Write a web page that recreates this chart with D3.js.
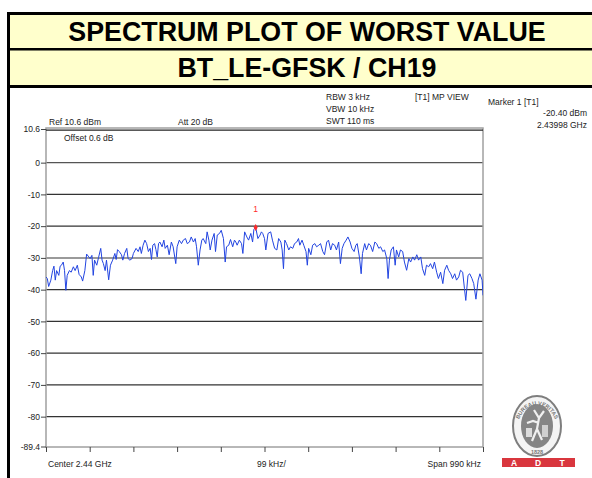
<!DOCTYPE html>
<html>
<head>
<meta charset="utf-8">
<script src="https://cdn.jsdelivr.net/npm/d3@7"></script>
<style>
  html, body { margin: 0; padding: 0; background: #fff; }
  svg { display: block; }
  text { font-family: "Liberation Sans", Arial, sans-serif; }
</style>
</head>
<body>
<div id="chart"></div>
<script>
// Spectrum analyzer sweep: frequency offset from 2.44 GHz centre (kHz) and level (dBm)
const traceOffsetKHz = [
  -495,-492,-489,-484,-480,-477,-474,-471,-466,-463,-460,-456,-453,-450,-447,-442,-438,-433,-429,-424,
  -420,-415,-412,-407,-403,-398,-395,-391,-388,-385,-380,-376,-371,-368,-365,-361,-358,-353,-349,-344,
  -339,-336,-333,-329,-324,-321,-317,-312,-309,-305,-300,-297,-291,-286,-282,-279,-275,-271,-267,-263,
  -259,-256,-253,-249,-246,-243,-240,-237,-232,-228,-225,-220,-216,-211,-207,-201,-198,-193,-188,-184,
  -179,-175,-170,-166,-161,-157,-154,-150,-146,-142,-139,-133,-130,-126,-123,-119,-114,-111,-107,-102,
  -98,-93,-89,-86,-81,-77,-72,-68,-65,-62,-57,-52,-49,-45,-40,-36,-31,-27,-24,-20,
  -15,-10,-7,-4,0,3,8,14,18,23,28,32,37,40,43,46,50,55,59,64,
  68,73,77,80,85,89,94,97,100,105,109,114,118,123,127,132,136,141,145,150,
  154,159,163,168,172,176,180,185,189,194,198,203,207,210,215,219,222,227,231,236,
  240,245,250,254,259,263,268,272,277,280,283,287,292,296,299,304,308,313,317,322,
  327,331,336,340,345,349,354,358,363,367,372,376,381,385,390,394,399,404,408,413,
  417,422,426,431,435,440,444,449,453,456,461,465,470,474,479,484,488,493,495
];
const traceLevelDbm = [
  -36,-36.5,-39,-37,-34,-32.6,-37,-34,-35.5,-32.6,-32.3,-31.3,-34,-40.2,-35.5,-34,-34.5,-32.8,-34,-32.3,
  -35.2,-36,-37.3,-34,-28.8,-29.7,-30.2,-29.2,-35.5,-30.7,-32.3,-29.9,-27,-30.7,-31.8,-34,-30.7,-36.9,-32.3,-30.7,
  -28.6,-30.5,-27.4,-28,-29,-30.7,-28.6,-27,-30.2,-30.7,-30.2,-28.6,-27,-28,-26.5,-28.6,-26,-24.4,-25.5,-28,
  -27,-30.5,-26,-25.5,-27.4,-29.7,-25.5,-25,-26.5,-24.4,-27,-26,-29,-25,-26.5,-31.8,-26.5,-24.4,-25.5,-24.4,
  -23.9,-25.5,-25,-23.4,-25,-23.9,-26.5,-32.3,-27.5,-24.4,-23.9,-25.5,-21.8,-24.4,-27.5,-24.4,-22.3,-28,-22.8,-22.3,
  -21.3,-23.9,-31.3,-26.5,-26,-24.2,-26.5,-24.4,-25,-26,-24.4,-25.5,-28.6,-21.8,-23.4,-24.4,-22.3,-25,-21,-20.4,
  -23.9,-22.8,-21.8,-22.3,-23.9,-27.5,-22.3,-21.8,-24.4,-27,-27.5,-23.9,-25,-27.5,-33.4,-24.4,-25.5,-27.5,-26.5,-27,
  -25.5,-25,-23.9,-26,-24.4,-26,-28,-32.3,-27,-29,-26,-25.5,-26.5,-26,-25.5,-28,-29,-25,-24.4,-27.5,
  -25.5,-26,-27.5,-25,-31.8,-27,-25.5,-24.4,-23.4,-25,-27,-28,-26,-25.5,-29.7,-35,-28.6,-25.5,-27.5,-25.5,
  -26,-28,-25,-25.5,-27,-26.5,-28,-27.5,-30.2,-36.5,-30.7,-27.5,-26.5,-32.3,-27.5,-29.7,-27.5,-28,-31.3,-33.9,
  -30.2,-31.3,-29.7,-30.7,-29,-30.7,-29.7,-33.4,-35.5,-32.3,-32.8,-31.8,-33.4,-31.3,-34.5,-36.5,-34.5,-38.1,-33.9,-32.3,
  -33.9,-35,-36.5,-35,-37,-36,-33.9,-34.5,-39.7,-43.4,-35.5,-35,-36.5,-38.1,-43,-37,-35,-37,-41.8
];

// Axis settings
const refLevel = 10.6;
const bottomLevel = -89.4;
const gridLevels = [0, -10, -20, -30, -40, -50, -60, -70, -80];
const yTickLabels = ["10.6", "0", "-10", "-20", "-30", "-40", "-50", "-60", "-70", "-80", "-89.4"];
const yTickValues = [10.6, 0, -10, -20, -30, -40, -50, -60, -70, -80, -89.4];
const spanKHz = 990;
const divisionKHz = 99;

// Marker 1
const markerOffsetKHz = -20;
const markerLevelDbm = -20.40;

// Header and setting texts
const titleLines = ["SPECTRUM PLOT OF WORST VALUE", "BT_LE-GFSK / CH19"];
const settingsCol1 = ["RBW 3 kHz", "VBW 10 kHz", "SWT 110 ms"];

const W = 592, H = 478;
const svg = d3.select("#chart").append("svg").attr("width", W).attr("height", H);

// ---- Header box ----
const hdr = svg.append("g");
hdr.append("rect").attr("x", 9).attr("y", 14).attr("width", 600).attr("height", 72).attr("fill", "#ffffcc");
hdr.append("rect").attr("x", 7).attr("y", 12).attr("width", 600).attr("height", 3).attr("fill", "#000");
hdr.append("rect").attr("x", 7).attr("y", 48).attr("width", 600).attr("height", 2.5).attr("fill", "#000");
hdr.append("rect").attr("x", 7).attr("y", 85).attr("width", 600).attr("height", 3).attr("fill", "#000");
hdr.append("rect").attr("x", 7).attr("y", 12).attr("width", 3).attr("height", H - 12).attr("fill", "#000");
hdr.selectAll("text.title").data(titleLines).join("text")
  .attr("class", "title")
  .attr("x", 307).attr("y", (d, i) => i === 0 ? 41 : 77)
  .attr("text-anchor", "middle")
  .attr("font-size", 26.8).attr("font-weight", "bold").attr("fill", "#000")
  .text(d => d);

// ---- Plot ----
const plotL = 46, plotR = 483, plotT = 129, plotB = 446.5;
const x = d3.scaleLinear().domain([-spanKHz / 2, spanKHz / 2]).range([plotL, plotR]);
const y = d3.scaleLinear().domain([bottomLevel, refLevel]).range([plotB, plotT]);

const plot = svg.append("g");

// grid
plot.selectAll("line.grid").data(gridLevels).join("line")
  .attr("class", "grid")
  .attr("x1", plotL).attr("x2", plotR)
  .attr("y1", d => y(d)).attr("y2", d => y(d))
  .attr("stroke", d => d === -30 ? "#9a9a9a" : (d === 0 ? "#555" : "#333"))
  .attr("stroke-width", d => d === -30 ? 2 : 1.1);

// frame
plot.append("rect").attr("x", plotL).attr("y", plotT - 1).attr("width", plotR - plotL).attr("height", plotB - plotT + 1.5)
  .attr("fill", "none").attr("stroke", "#a0a0a0").attr("stroke-width", 1.5);
// reference level line
plot.append("line").attr("x1", plotL).attr("x2", plotR).attr("y1", plotT + 1.2).attr("y2", plotT + 1.2)
  .attr("stroke", "#222").attr("stroke-width", 1.2);

// y axis
const yAxis = d3.axisLeft(y).tickValues(yTickValues)
  .tickFormat((d, i) => yTickLabels[i]).tickSize(5).tickPadding(1);
const yg = plot.append("g").attr("transform", `translate(${plotL},0)`).call(yAxis);
yg.select(".domain").remove();
yg.selectAll(".tick line").attr("stroke", "#444");
yg.selectAll(".tick text").attr("font-size", 8.5).attr("fill", "#222")
  .attr("font-family", "'Liberation Sans', Arial, sans-serif");

// x axis ticks (one per division)
const xTicks = d3.range(0, 11).map(i => -spanKHz / 2 + i * divisionKHz);
const xAxis = d3.axisBottom(x).tickValues(xTicks).tickFormat("").tickSize(5);
const xg = plot.append("g").attr("transform", `translate(0,${plotB + 0.5})`).call(xAxis);
xg.select(".domain").remove();
xg.selectAll(".tick line").attr("stroke", "#444");

// trace
const traceData = traceOffsetKHz.map((f, i) => ({ f, v: traceLevelDbm[i] }));
svg.append("clipPath").attr("id", "clip").append("rect")
  .attr("x", plotL).attr("y", plotT).attr("width", plotR - plotL).attr("height", plotB - plotT);
plot.append("path").datum(traceData)
  .attr("clip-path", "url(#clip)")
  .attr("fill", "none").attr("stroke", "#2244e0").attr("stroke-width", 1)
  .attr("d", d3.line().x(d => x(d.f)).y(d => y(d.v)));

// marker
const mx = x(markerOffsetKHz), my = y(markerLevelDbm);
plot.append("path")
  .attr("d", d3.symbol(d3.symbolDiamond, 14)())
  .attr("transform", `translate(${mx},${my})`)
  .attr("fill", "#ff2a2a");
plot.append("text").attr("x", mx).attr("y", my - 15)
  .attr("text-anchor", "middle").attr("font-size", 8.5).attr("fill", "#ff2a2a").text("1");

// ---- Setting texts ----
const small = (t, px, py, anchor) => svg.append("text").attr("x", px).attr("y", py)
  .attr("text-anchor", anchor || "start").attr("font-size", 8.5).attr("fill", "#222").text(t);

small("Ref 10.6 dBm", 49, 125);
small("Att  20 dB", 178, 125);
small("Offset 0.6 dB", 64, 141);
settingsCol1.forEach((t, i) => small(t, 326, 100 + i * 12));
small("[T1] MP VIEW", 415, 100);
small("Marker 1 [T1]", 488, 105);
small(markerLevelDbm.toFixed(2) + " dBm", 587, 116, "end");
small("2.43998 GHz", 587, 128, "end");
small("Center 2.44 GHz", 48, 467);
small(divisionKHz + " kHz/", 257, 467);
small("Span " + spanKHz + " kHz", 481, 467, "end");

// ---- Certification logo ----
const logo = svg.append("g").attr("transform", "translate(537,426)");
logo.append("ellipse").attr("rx", 24).attr("ry", 30).attr("fill", "#f4f4f4")
  .attr("stroke", "#7e7e7e").attr("stroke-width", 2);
logo.append("ellipse").attr("rx", 16).attr("ry", 22).attr("fill", "#858585");
logo.append("path").attr("id", "arcTop")
  .attr("d", "M -20,5 A 20,26 0 0 1 20,5").attr("fill", "none");
logo.append("text").attr("font-size", 5.5).attr("font-weight", "bold").attr("fill", "#777")
  .append("textPath").attr("href", "#arcTop").attr("startOffset", "50%").attr("text-anchor", "middle")
  .text("BUREAU VERITAS");
logo.append("text").attr("y", 28).attr("text-anchor", "middle").attr("font-size", 5.5)
  .attr("font-weight", "bold").attr("fill", "#777").text("1828");
// figure silhouette inside the seal
logo.append("path").attr("d", "M -3,-16 L 2,-8 L 7,-15 M 2,-8 L 0,3 L -5,15 M 0,3 L 5,14 M -10,-3 L -4,-5 L 2,-3")
  .attr("fill", "none").attr("stroke", "#f0f0f0").attr("stroke-width", 2.2);
logo.append("rect").attr("x", -11).attr("y", 2).attr("width", 6).attr("height", 9).attr("fill", "#dcdcdc");
logo.append("rect").attr("x", 5).attr("y", -1).attr("width", 6).attr("height", 12).attr("fill", "#cfcfcf");

svg.append("rect").attr("x", 502).attr("y", 458).attr("width", 73).attr("height", 9).attr("fill", "#d9363e");
["A", "D", "T"].forEach((t, i) => svg.append("text").attr("x", 514 + i * 24).attr("y", 466)
  .attr("text-anchor", "middle").attr("font-size", 8.5).attr("font-weight", "bold")
  .attr("fill", "#fff").text(t));
</script>
</body>
</html>
